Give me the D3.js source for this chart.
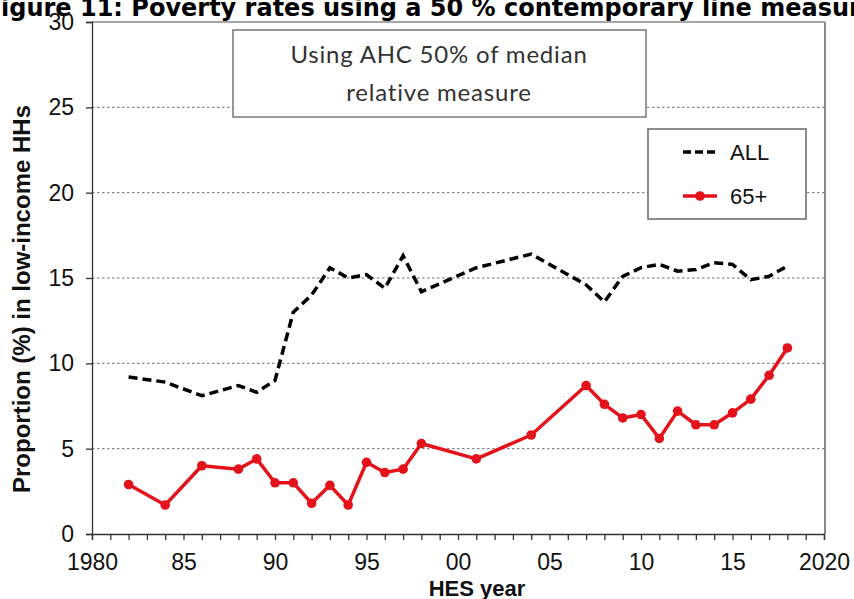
<!DOCTYPE html>
<html>
<head>
<meta charset="utf-8">
<script src="https://cdn.jsdelivr.net/npm/d3@7"></script>
<style>
  html, body { margin: 0; padding: 0; background: #fff; overflow: hidden; }
  svg { display: block; }
</style>
</head>
<body>
<svg id="chart" width="854" height="599"></svg>
<script>
const years = [1982,1984,1986,1988,1989,1990,1991,1992,1993,1994,1995,1996,1997,1998,2001,2004,2007,2008,2009,2010,2011,2012,2013,2014,2015,2016,2017,2018];
const allValues = [9.2,8.9,8.1,8.7,8.3,9.0,13.0,14.0,15.6,15.0,15.2,14.4,16.3,14.2,15.6,16.4,14.6,13.6,15.1,15.6,15.8,15.4,15.5,15.9,15.8,14.9,15.1,15.7];
const elderlyValues = [2.9,1.7,4.0,3.8,4.4,3.0,3.0,1.8,2.85,1.7,4.2,3.6,3.8,5.3,4.4,5.8,8.7,7.6,6.8,7.0,5.6,7.2,6.4,6.4,7.1,7.9,9.3,10.9];
const xTickValues = [1980,1985,1990,1995,2000,2005,2010,2015,2020];
const xTickLabels = ["1980","85","90","95","00","05","10","15","2020"];
const yTickValues = [0,5,10,15,20,25,30];
const seriesNames = ["ALL","65+"];
const titleText = "Figure 11: Poverty rates using a 50 % contemporary line measure";
const noteLines = ["Using AHC 50% of median","relative measure"];
const xTitle = "HES year";
const yTitle = "Proportion (%) in low-income HHs";

(function () {
const svg = d3.select("#chart");
const pL = 92, pR = 824, pT = 22, pB = 534;
const x = d3.scaleLinear().domain([1980, 2020]).range([pL, pR]);
const y = d3.scaleLinear().domain([0, 30]).range([pB, pT]);
const RED = "#e3121b";
const AXIS_FONT = "'Liberation Sans', Arial, sans-serif";
const TITLE_FONT = "'DejaVu Sans', Verdana, sans-serif";

// Title (cut off at top)
const title = svg.append("text")
  .attr("y", 16)
  .attr("font-family", TITLE_FONT)
  .attr("font-weight", "bold")
  .attr("font-size", 24)
  .attr("fill", "#000")
  .text(titleText);
const tmp = svg.append("text").attr("font-family", TITLE_FONT)
  .attr("font-weight", "bold").attr("font-size", 24).text("F");
const fw = tmp.node().getComputedTextLength();
tmp.remove();
title.attr("x", -fw + 1);

// Gridlines
svg.append("g")
  .selectAll("line")
  .data(yTickValues.filter(v => v > 0 && v < 30))
  .join("line")
  .attr("x1", pL).attr("x2", pR)
  .attr("y1", d => y(d)).attr("y2", d => y(d))
  .attr("stroke", "#6f6f6f")
  .attr("stroke-width", 1)
  .attr("stroke-dasharray", "2.5,2.5");

// Frame top and right
svg.append("line").attr("x1", pL).attr("x2", pR + 1).attr("y1", y(30)).attr("y2", y(30))
  .attr("stroke", "#8a8a8a").attr("stroke-width", 1.5);
svg.append("line").attr("x1", pR + 1).attr("x2", pR + 1).attr("y1", y(30)).attr("y2", pB)
  .attr("stroke", "#8a8a8a").attr("stroke-width", 2);

// Y axis
const yAxis = svg.append("g")
  .attr("transform", `translate(${pL},0)`)
  .call(d3.axisLeft(y).tickValues(yTickValues).tickSize(6).tickPadding(12).tickFormat(d3.format("d")));
yAxis.select(".domain").attr("stroke", "#333").attr("stroke-width", 1.3);
yAxis.selectAll(".tick line").attr("stroke", "#333").attr("stroke-width", 1.3);
yAxis.selectAll(".tick text").attr("font-family", AXIS_FONT).attr("font-size", 23).attr("fill", "#111");

// X axis
const xAxis = svg.append("g")
  .attr("transform", `translate(0,${pB})`)
  .call(d3.axisBottom(x).tickValues(d3.range(1980, 2021, 1)).tickSize(6).tickPadding(14)
    .tickFormat(d => { const i = xTickValues.indexOf(d); return i >= 0 ? xTickLabels[i] : ""; }));
xAxis.select(".domain").attr("stroke", "#333").attr("stroke-width", 1.3);
xAxis.selectAll(".tick line").attr("stroke", "#333").attr("stroke-width", 1.3);
xAxis.selectAll(".tick text").attr("font-family", AXIS_FONT).attr("font-size", 23).attr("fill", "#111");

// Axis titles
svg.append("text")
  .attr("x", 477).attr("y", 596)
  .attr("text-anchor", "middle")
  .attr("font-family", AXIS_FONT).attr("font-weight", "bold").attr("font-size", 22)
  .attr("fill", "#111")
  .text(xTitle);
svg.append("text")
  .attr("transform", "translate(30,299) rotate(-90)")
  .attr("text-anchor", "middle")
  .attr("font-family", AXIS_FONT).attr("font-weight", "bold").attr("font-size", 24)
  .attr("fill", "#111")
  .text(yTitle);

// Note box
svg.append("rect").attr("x", 233).attr("y", 30).attr("width", 413).attr("height", 87)
  .attr("fill", "#fff").attr("stroke", "#777").attr("stroke-width", 1.5);
svg.append("g").selectAll("text").data(noteLines).join("text")
  .attr("x", 439).attr("y", (d, i) => 63 + i * 38)
  .attr("text-anchor", "middle")
  .attr("font-family", "Lato, 'Open Sans', sans-serif")
  .attr("font-size", 24)
  .attr("letter-spacing", 0.8)
  .attr("fill", "#333")
  .text(d => d);

// Lines
const line = d3.line().x(d => x(d[0])).y(d => y(d[1]));
const allData = years.map((yr, i) => [yr, allValues[i]]);
const eldData = years.map((yr, i) => [yr, elderlyValues[i]]);

svg.append("path").datum(allData)
  .attr("d", line).attr("fill", "none")
  .attr("stroke", "#000").attr("stroke-width", 3.5)
  .attr("stroke-dasharray", "9,5");

svg.append("path").datum(eldData)
  .attr("d", line).attr("fill", "none")
  .attr("stroke", RED).attr("stroke-width", 3.5).attr("stroke-linejoin", "round");
svg.append("g").selectAll("circle").data(eldData).join("circle")
  .attr("cx", d => x(d[0])).attr("cy", d => y(d[1])).attr("r", 4.8)
  .attr("fill", RED);

// Legend
const lg = svg.append("g");
lg.append("rect").attr("x", 648).attr("y", 129).attr("width", 158).attr("height", 90)
  .attr("fill", "#fff").attr("stroke", "#666").attr("stroke-width", 1.5);
lg.append("line").attr("x1", 683).attr("x2", 717).attr("y1", 152).attr("y2", 152)
  .attr("stroke", "#000").attr("stroke-width", 3.5).attr("stroke-dasharray", "8,4");
lg.append("line").attr("x1", 683).attr("x2", 717).attr("y1", 196).attr("y2", 196)
  .attr("stroke", RED).attr("stroke-width", 3.5);
lg.append("circle").attr("cx", 700).attr("cy", 196).attr("r", 4.8).attr("fill", RED);
lg.selectAll("text.lab").data(seriesNames).join("text")
  .attr("class", "lab")
  .attr("x", 730).attr("y", (d, i) => 160 + i * 44)
  .attr("font-family", AXIS_FONT).attr("font-size", 22).attr("fill", "#111")
  .text(d => d);
})();
</script>
</body>
</html>
